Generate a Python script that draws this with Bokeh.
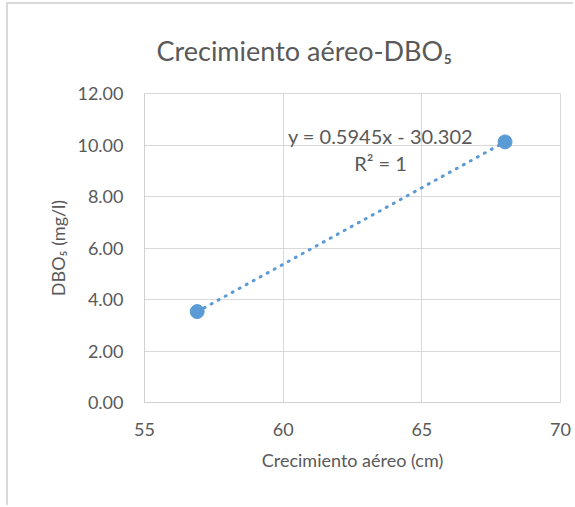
from bokeh.plotting import figure
from bokeh.models import Label, Range1d, FixedTicker, NumeralTickFormatter
from bokeh.embed import file_html
from bokeh.resources import INLINE

# ---- data ----
x_growth = [56.9, 68.0]          # Crecimiento aéreo (cm)
y_dbo = [3.53, 10.12]            # DBO5 (mg/l)
x_ticks = [55, 60, 65, 70]
y_ticks = [0, 2, 4, 6, 8, 10, 12]
trend_slope = 0.5945
trend_intercept = -30.302
eq_text = "y = 0.5945x - 30.302"
r2_text = "R² = 1"
title_text = "Crecimiento aéreo-DBO₅"
x_label = "Crecimiento aéreo (cm)"
y_label = "DBO₅ (mg/l)"

FONT = "Lato"
TXT = "#595959"
BLUE = "#5B9BD5"
GRID = "#d9d9d9"

OX, OY = 8, 4                     # canvas origin on the page (after chart border)
W, H = 575 - OX, 507 - OY
BL = 144 - OX
BT = 93 - OY
BR = W - (560 - OX)
BB = H - (402 - OY)

p = figure(width=W, height=H, output_backend="svg", toolbar_location=None,
           x_range=Range1d(x_ticks[0], x_ticks[-1]), y_range=Range1d(y_ticks[0], y_ticks[-1]),
           min_border_left=BL, min_border_right=BR, min_border_top=BT, min_border_bottom=BB)
p.styles = {"margin-left": "6px", "margin-top": "2px",
            "border-left": "2px solid #d9d9d9", "border-top": "2px solid #d9d9d9"}
p.outline_line_color = GRID
p.background_fill_color = "white"
p.border_fill_color = "white"

p.title.text = title_text
p.title.align = "left"
p.title.offset = 12
p.title.standoff = 54
p.title.text_font = FONT
p.title.text_font_size = "27px"
p.title.text_font_style = "normal"
p.title.text_color = TXT

p.xgrid.ticker = FixedTicker(ticks=x_ticks)
p.ygrid.ticker = FixedTicker(ticks=y_ticks)
p.grid.grid_line_color = GRID
p.grid.grid_line_width = 1

for ax in (p.xaxis[0], p.yaxis[0]):
    ax.axis_line_color = "#d0d0d0"
    ax.major_tick_line_color = None
    ax.minor_tick_line_color = None
    ax.major_tick_out = 0
    ax.major_tick_in = 0
    ax.major_label_text_font = FONT
    ax.major_label_text_font_size = "18px"
    ax.major_label_text_color = TXT
    ax.axis_label_text_font = FONT
    ax.axis_label_text_font_size = "18px"
    ax.axis_label_text_color = TXT
    ax.axis_label_text_font_style = "normal"

p.xaxis.ticker = FixedTicker(ticks=x_ticks)
p.yaxis.ticker = FixedTicker(ticks=y_ticks)
p.yaxis.formatter = NumeralTickFormatter(format="0.00")
p.xaxis.major_label_standoff = 20
p.yaxis.major_label_standoff = 21
p.xaxis.axis_label = x_label
p.yaxis.axis_label = y_label
p.xaxis.axis_label_standoff = 10
p.yaxis.axis_label_standoff = 5

# trendline (linear fit shown in chart)
tx = [min(x_growth), max(x_growth)]
ty = [trend_slope * v + trend_intercept for v in tx]
p.line(tx, ty, line_color=BLUE, line_width=3, line_dash="1 7", line_cap="round")

p.scatter(x_growth, y_dbo, size=14, fill_color=BLUE, line_color=BLUE)

# screen positions are relative to the frame's bottom-left corner (page px in)
def sx(page_x):
    return page_x - 144

def sy(page_y):
    return 402 - page_y

# equation
p.add_layout(Label(x=sx(380), y=sy(135), x_units="screen", y_units="screen", text=eq_text,
                   text_align="center", text_baseline="alphabetic", text_font=FONT,
                   text_font_size="20px", text_color=TXT))
p.add_layout(Label(x=sx(380), y=sy(162), x_units="screen", y_units="screen", text=r2_text,
                   text_align="center", text_baseline="alphabetic", text_font=FONT,
                   text_font_size="20px", text_color=TXT))

open("out.html", "w").write(file_html(p, INLINE))
